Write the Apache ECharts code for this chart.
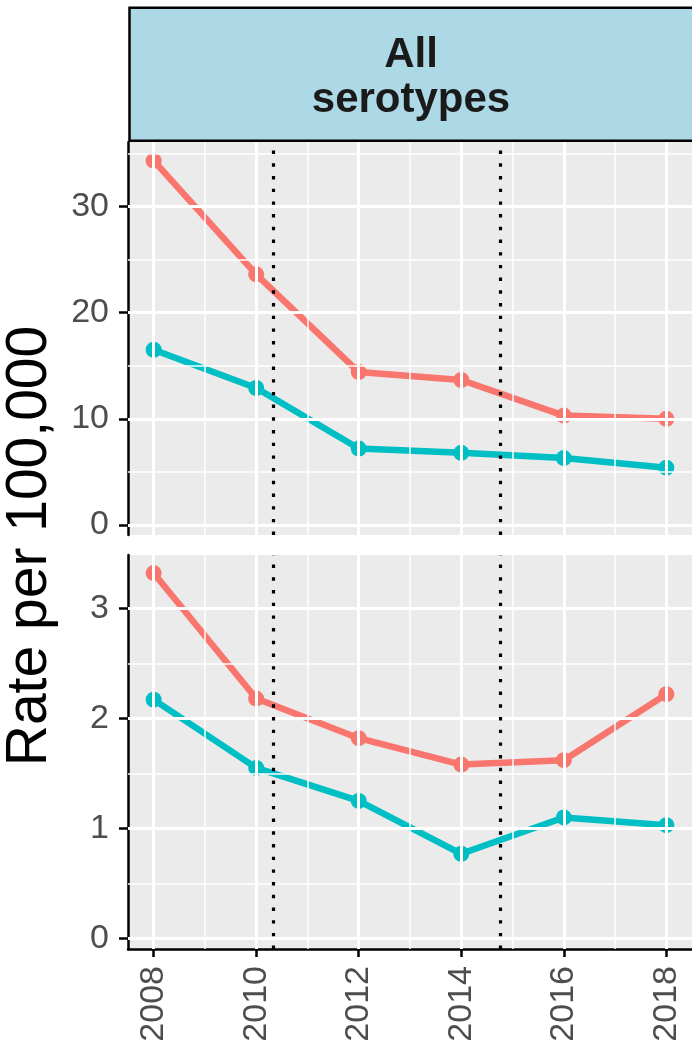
<!DOCTYPE html>
<html>
<head>
<meta charset="utf-8">
<script src="https://cdn.jsdelivr.net/npm/echarts@6/dist/echarts.min.js"></script>
<style>
html, body { margin: 0; padding: 0; background: #fff; }
#main { width: 692px; height: 1053px; }
</style>
</head>
<body>
<div id="main"></div>
<script>
const years = [2008, 2010, 2012, 2014, 2016, 2018]
const minorYears = [2009, 2011, 2013, 2015, 2017]
const vaccineLines = [2010.33, 2014.76]

// upper panel
const topRed = [34.3, 23.6, 14.4, 13.65, 10.3, 10.0]
const topBlue = [16.5, 12.9, 7.2, 6.8, 6.3, 5.4]
const topTicks = [0, 10, 20, 30]
const topMinor = [5, 15, 25, 35]

// lower panel
const botRed = [3.32, 2.18, 1.82, 1.58, 1.62, 2.22]
const botBlue = [2.17, 1.55, 1.25, 0.77, 1.10, 1.03]
const botTicks = [0, 1, 2, 3]
const botMinor = [0.5, 1.5, 2.5]

const RED = '#F8766D'
const BLUE = '#00BFC4'
const FONT = 'Liberation Sans, Arial, sans-serif'

function pairs (vals) {
  return years.map((y, i) => [y, vals[i]])
}

// white background grid lines
function gridSeries (idx, major, minor) {
  const lines = []
  major.forEach(v => lines.push({ yAxis: v, lineStyle: { width: 3 } }))
  minor.forEach(v => lines.push({ yAxis: v, lineStyle: { width: 1.5 } }))
  years.forEach(v => lines.push({ xAxis: v, lineStyle: { width: 3 } }))
  minorYears.forEach(v => lines.push({ xAxis: v, lineStyle: { width: 1.5 } }))
  return {
    type: 'line', xAxisIndex: idx, yAxisIndex: idx, data: [], z: 1, silent: true,
    markLine: {
      silent: true, symbol: ['none', 'none'], label: { show: false }, animation: false,
      lineStyle: { color: '#ffffff', type: 'solid' },
      emphasis: { disabled: true },
      data: lines
    }
  }
}

function dottedSeries (idx) {
  return {
    type: 'line', xAxisIndex: idx, yAxisIndex: idx, data: [], z: 5, silent: true,
    markLine: {
      silent: true, symbol: ['none', 'none'], label: { show: false }, animation: false,
      lineStyle: { color: '#000000', width: 3.2, type: [3.4, 9.3], cap: 'butt' },
      emphasis: { disabled: true },
      data: vaccineLines.map(v => ({ xAxis: v }))
    }
  }
}

function dataSeries (idx, vals, color) {
  return {
    type: 'line', xAxisIndex: idx, yAxisIndex: idx, z: 3,
    data: pairs(vals),
    symbol: 'circle', symbolSize: 16,
    itemStyle: { color: color },
    lineStyle: { color: color, width: 6.5 },
    emphasis: { disabled: true },
    animation: false
  }
}

const chart = echarts.init(document.getElementById('main'))

const xBase = {
  type: 'value', min: 2007.5, max: 2018.5,
  splitLine: { show: false }
}

const option = {
  backgroundColor: '#ffffff',
  animation: false,
  grid: [
    { left: 128, top: 142, width: 566, height: 393, show: true, backgroundColor: '#EBEBEB', borderWidth: 0 },
    { left: 128, top: 555, width: 566, height: 394, show: true, backgroundColor: '#EBEBEB', borderWidth: 0 }
  ],
  xAxis: [
    Object.assign({}, xBase, {
      gridIndex: 0,
      axisLine: { show: false },
      axisTick: { show: false },
      axisLabel: { show: false }
    }),
    Object.assign({}, xBase, {
      gridIndex: 1,
      axisLine: { show: true, onZero: false, lineStyle: { color: '#000000', width: 2.5 } },
      axisTick: { show: true, length: 8, customValues: years, lineStyle: { color: '#000000', width: 2.5 } },
      axisLabel: {
        customValues: years, rotate: 90, margin: 17,
        formatter: v => String(v),
        color: '#4D4D4D', fontSize: 34, fontFamily: FONT
      }
    })
  ],
  yAxis: [
    {
      type: 'value', gridIndex: 0, min: -0.94, max: 36.06,
      splitLine: { show: false },
      axisLine: { show: true, onZero: false, lineStyle: { color: '#000000', width: 2.5 } },
      axisTick: { show: true, length: 9, customValues: topTicks, lineStyle: { color: '#000000', width: 2.5 } },
      axisLabel: { customValues: topTicks, margin: 19, color: '#4D4D4D', fontSize: 34, fontFamily: FONT }
    },
    {
      type: 'value', gridIndex: 1, min: -0.095, max: 3.484,
      splitLine: { show: false },
      axisLine: { show: true, onZero: false, lineStyle: { color: '#000000', width: 2.5 } },
      axisTick: { show: true, length: 9, customValues: botTicks, lineStyle: { color: '#000000', width: 2.5 } },
      axisLabel: { customValues: botTicks, margin: 19, color: '#4D4D4D', fontSize: 34, fontFamily: FONT }
    }
  ],
  series: [
    gridSeries(0, topTicks, topMinor),
    gridSeries(1, botTicks, botMinor),
    dottedSeries(0),
    dottedSeries(1),
    dataSeries(0, topRed, RED),
    dataSeries(0, topBlue, BLUE),
    dataSeries(1, botRed, RED),
    dataSeries(1, botBlue, BLUE)
  ],
  graphic: [
    {
      type: 'rect', z: 10,
      shape: { x: 129.5, y: 7.8, width: 600, height: 133 },
      style: { fill: '#ADD8E6', stroke: '#000000', lineWidth: 2.5 }
    },
    {
      type: 'text', z: 11, x: 411, y: 78,
      style: {
        text: 'All\nserotypes', fill: '#1A1A1A', font: 'bold 42px ' + FONT,
        align: 'center', verticalAlign: 'middle', lineHeight: 45
      }
    },
    {
      type: 'text', z: 11, x: 30, y: 546, rotation: Math.PI / 2,
      style: {
        text: 'Rate per 100,000', fill: '#000000', font: '57px ' + FONT,
        align: 'center', verticalAlign: 'middle'
      }
    }
  ]
}

chart.setOption(option)
</script>
</body>
</html>
